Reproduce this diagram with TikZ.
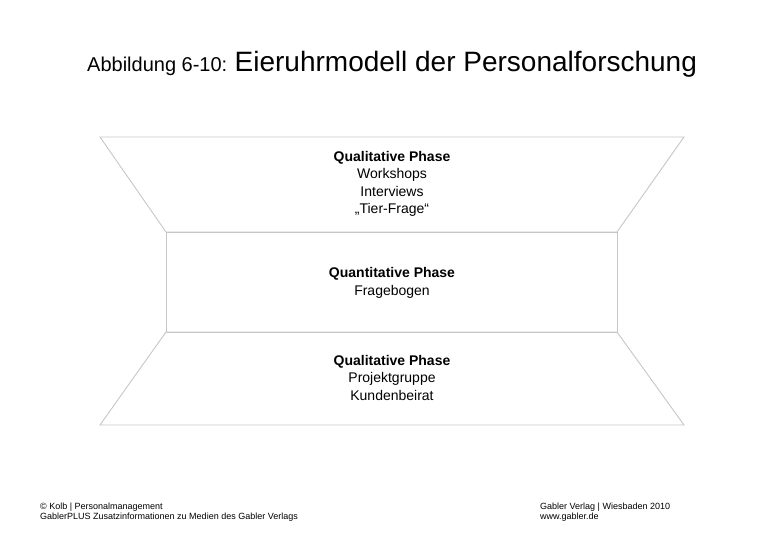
\documentclass[tikz,border=0pt]{standalone}
\usepackage{fontspec}
\setmainfont{Liberation Sans}
\begin{document}
\begin{tikzpicture}[x=1pt,y=-1pt,
  shapeline/.style={draw=black!22, line width=0.9pt, line join=miter},
  phase/.style={align=center, font=\fontsize{14}{17.5}\selectfont, inner sep=0pt},
  foot/.style={align=left, font=\fontsize{9}{9.5}\selectfont, inner sep=0pt, anchor=north west}]
\useasboundingbox[fill=white] (0,0) rectangle (780,540);
% title
\node[anchor=base west, inner sep=0pt] (title) at (87,72)
  {{\fontsize{20}{24}\selectfont Abbildung 6-10: }{\fontsize{28}{34}\selectfont Eieruhrmodell der Personalforschung}};
% geometry
\coordinate (otl) at (100,137);
\coordinate (otr) at (684,137);
\coordinate (itl) at (166,232);
\coordinate (itr) at (617,232);
\coordinate (ibl) at (166,332);
\coordinate (ibr) at (617,332);
\coordinate (obl) at (100,425);
\coordinate (obr) at (684,425);
\draw[shapeline] (otl) -- (otr) -- (itr) -- (itl) -- cycle;
\draw[shapeline] (itl) rectangle (ibr);
\draw[shapeline] (ibl) -- (ibr) -- (obr) -- (obl) -- cycle;
% texts
\node[phase] (top) at (392,184) {\textbf{Qualitative Phase}\\Workshops\\Interviews\\„Tier-Frage“};
\node[phase] (mid) at (392,283) {\textbf{Quantitative Phase}\\Fragebogen};
\node[phase] (bot) at (392,377.5) {\textbf{Qualitative Phase}\\Projektgruppe\\Kundenbeirat};
% footer
\node[foot] (fl) at (40,503) {© Kolb | Personalmanagement\\GablerPLUS Zusatzinformationen zu Medien des Gabler Verlags};
\node[foot] (fr) at (540,503) {Gabler Verlag | Wiesbaden 2010\\www.gabler.de};
\end{tikzpicture}
\end{document}
